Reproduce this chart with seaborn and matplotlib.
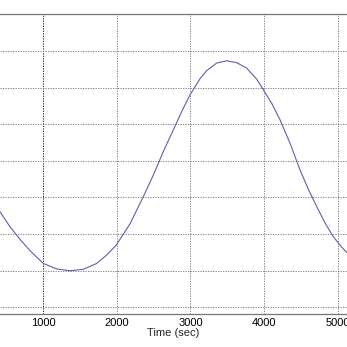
import seaborn as sns
import matplotlib.pyplot as plt
import pandas as pd

# values
time_sec = [412, 548, 683, 819, 1000, 1182, 1363, 1543, 1726, 1861, 1992,
            2178, 2359, 2495, 2630, 2766, 2880, 2993, 3129, 3220, 3356,
            3492, 3628, 3764, 3900, 3990, 4104, 4217, 4353, 4489, 4603,
            4716, 4827, 4941, 5031, 5122]
signal = [2.61, 2.20, 1.86, 1.55, 1.20, 1.05, 1.00, 1.04, 1.20, 1.43, 1.70,
          2.28, 3.02, 3.61, 4.25, 4.84, 5.34, 5.80, 6.24, 6.46, 6.67,
          6.73, 6.68, 6.53, 6.23, 5.94, 5.57, 5.12, 4.48, 3.75, 3.22,
          2.75, 2.31, 1.93, 1.70, 1.50]
x_ticks = [1000, 2000, 3000, 4000, 5000]
y_grid = [0, 1, 2, 3, 4, 5, 6, 7, 8]

df = pd.DataFrame({"time": time_sec, "value": signal})

sns.set_style("white")
plt.rcParams["font.family"] = ["Liberation Sans", "DejaVu Sans"]

fig = plt.figure(figsize=(3.47, 3.47), dpi=100)
ax = fig.add_axes([0, 0.0951, 1, 0.8637])

sns.lineplot(data=df, x="time", y="value", ax=ax, color="#6060a8",
             linewidth=0.8)

ax.set_xlim(412, 5127)
ax.set_ylim(-0.18, 8.0)
ax.set_xticks(x_ticks)
ax.set_yticks(y_grid)
ax.set_yticklabels([])
ax.grid(True, linestyle=(0, (1.5, 1.5)), color="#707070", linewidth=0.6)
# the 1000 s line is darker in the original
ax.get_xgridlines()[0].set_color("black")

for side in ["left", "right"]:
    ax.spines[side].set_visible(False)
for side in ["top", "bottom"]:
    ax.spines[side].set_color("#777777")
    ax.spines[side].set_linewidth(0.9)

ax.tick_params(axis="x", direction="in", length=3, labelsize=8, pad=3,
               colors="#777777", labelcolor="black")
ax.tick_params(axis="y", length=0)
ax.set_xlabel("Time (sec)", fontsize=8, labelpad=0)
ax.set_ylabel("")

fig.savefig("out.png", dpi=100)
